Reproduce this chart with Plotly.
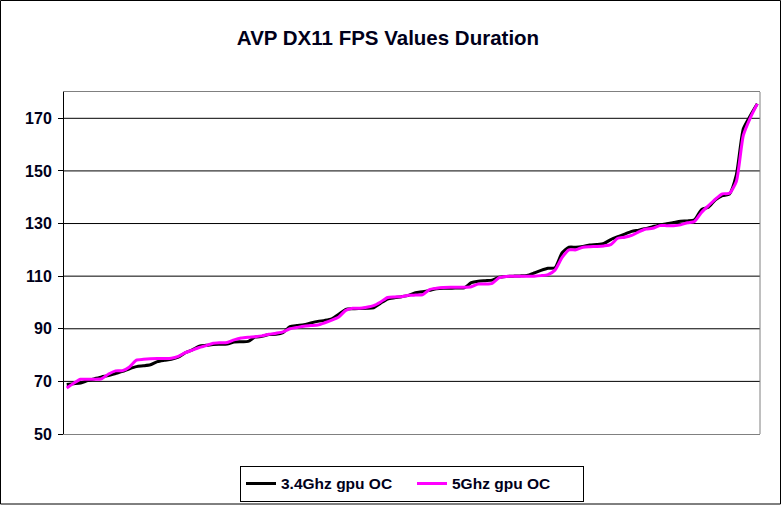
import plotly.graph_objects as go

title = "AVP DX11 FPS Values Duration"
series_names = ["3.4Ghz gpu OC", "5Ghz gpu OC"]
y_ticks = [50, 70, 90, 110, 130, 150, 170]

fps_34ghz = [
    68.8, 69.1, 69.4, 70.3, 71.0, 71.7, 72.2, 73.0, 73.8, 74.8,
    75.6, 75.9, 76.3, 77.5, 78.0, 78.4, 79.2, 80.9, 82.0, 83.4,
    83.7, 84.0, 84.1, 84.2, 85.0, 85.1, 85.2, 86.8, 87.1, 87.8,
    87.9, 88.5, 90.8, 91.2, 91.5, 92.2, 92.8, 93.2, 93.8, 95.5,
    97.4, 97.6, 97.7, 97.8, 98.0, 99.7, 101.3, 101.8, 102.2, 102.7,
    103.7, 104.1, 104.6, 105.2, 105.4, 105.4, 105.5, 105.6, 107.5, 108.1,
    108.3, 108.5, 109.6, 109.9, 110.0, 110.1, 110.3, 111.2, 112.2, 113.0,
    113.2, 118.8, 121.0, 121.0, 121.3, 121.8, 122.0, 122.4, 123.9, 125.0,
    126.0, 127.0, 127.5, 128.1, 128.8, 129.5, 129.9, 130.4, 130.9, 131.0,
    131.4, 135.3, 136.2, 139.0, 140.6, 141.2, 148.5, 166.0, 171.0, 175.5,
]

fps_5ghz = [
    67.5, 69.3, 70.8, 70.8, 70.8, 71.0, 72.8, 74.0, 74.1, 75.5,
    78.1, 78.4, 78.6, 78.7, 78.7, 78.8, 79.5, 80.9, 81.9, 82.9,
    83.6, 84.5, 84.7, 84.8, 85.8, 86.5, 86.8, 87.0, 87.3, 87.9,
    88.3, 88.8, 90.0, 90.5, 91.0, 91.2, 91.4, 92.3, 93.3, 94.5,
    97.0, 97.8, 97.8, 98.2, 98.8, 100.2, 101.9, 102.1, 102.2, 102.7,
    102.8, 102.9, 104.9, 105.4, 105.7, 105.8, 105.8, 105.8, 106.0, 107.0,
    107.0, 107.3, 109.4, 109.9, 110.0, 110.0, 110.0, 110.0, 110.2, 110.6,
    112.3, 117.0, 120.0, 120.0, 121.0, 121.2, 121.3, 121.5, 122.0, 124.4,
    124.8, 125.5, 126.8, 127.9, 128.2, 129.2, 129.2, 129.2, 129.5, 130.3,
    130.8, 134.2, 136.8, 139.3, 141.3, 141.5, 146.0, 163.5, 170.2, 175.5,
]

x_idx = list(range(1, len(fps_5ghz) + 1))
font_family = "Liberation Sans, Arial, sans-serif"
text_color = "#00001a"

fig = go.Figure()
fig.add_trace(go.Scatter(
    x=x_idx, y=fps_34ghz, mode="lines", name="<b>" + series_names[0] + "</b>",
    line=dict(color="#000000", width=3, shape="spline", smoothing=0.6),
))
fig.add_trace(go.Scatter(
    x=x_idx, y=fps_5ghz, mode="lines", name="<b>" + series_names[1] + "</b>",
    line=dict(color="#FF00FF", width=3, shape="spline", smoothing=0.6),
))

fig.update_layout(
    width=781, height=505,
    margin=dict(l=64, r=21, t=92, b=71, autoexpand=False),
    paper_bgcolor="white", plot_bgcolor="white",
    title=dict(text="<b>" + title + "</b>", x=(388 - 64) / 696, xref="paper", xanchor="center",
               y=1 - 38 / 505, yanchor="middle",
               font=dict(family=font_family, size=20.5, color=text_color)),
    showlegend=True,
    legend=dict(orientation="h", x=(412 - 64) / 696, xanchor="center", y=-0.093, yanchor="top",
                bordercolor="#000000", borderwidth=1, bgcolor="white",
                font=dict(family=font_family, size=15.5, color=text_color),
                itemwidth=30, tracegroupgap=0, entrywidth=126, entrywidthmode="pixels"),
    font=dict(family=font_family, color=text_color),
)

fig.update_xaxes(
    range=[1 - 0.39, len(x_idx) + 0.39], showgrid=False, zeroline=False,
    showticklabels=False, ticks="", showline=True, linecolor="#808080",
    linewidth=1, mirror=True,
)
fig.update_yaxes(
    range=[50, 180], tickvals=y_ticks, ticktext=[f"<b>{v}</b>" for v in y_ticks],
    showgrid=False, zeroline=False,
    showline=True, linecolor="#000000", linewidth=1,
    ticks="outside", ticklen=5, tickcolor="#000000", ticklabelstandoff=3,
    tickfont=dict(family=font_family, size=16, color=text_color),
)

for v in y_ticks[1:]:
    fig.add_hline(y=v, line=dict(color="#000000", width=1), layer="below")

# right edge of plot area (gray) and chart-area border (black)
fig.add_shape(type="line", xref="paper", yref="paper", x0=1, x1=1, y0=0, y1=1,
              line=dict(color="#808080", width=1))
fig.add_shape(type="rect", xref="paper", yref="paper",
              x0=(0.5 - 64) / 696, x1=(780.5 - 64) / 696,
              y0=(434 - 504) / 342, y1=(434 - 0.5) / 342,
              line=dict(color="#000000", width=1), fillcolor="rgba(0,0,0,0)")

fig.write_html("out.html", config={"displayModeBar": False},
               post_script="document.body.style.margin='0';document.body.style.overflow='hidden';")
